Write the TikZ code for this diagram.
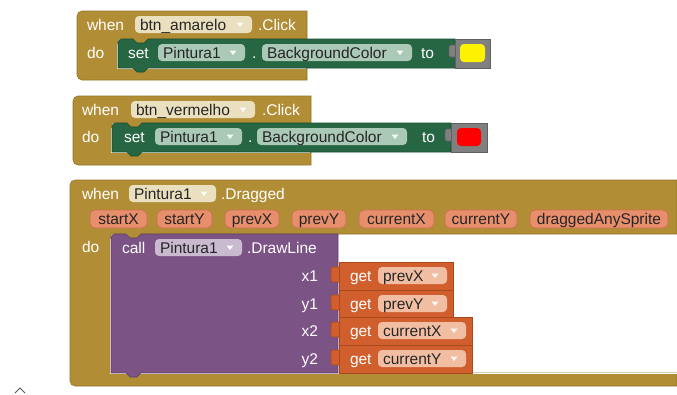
\documentclass[tikz,border=0pt]{standalone}
\usepackage{fontspec}
\setmainfont{Liberation Sans}

% block palette
\definecolor{evt}{RGB}{177,142,53}
\definecolor{evtdark}{RGB}{150,118,40}
\definecolor{evfield}{RGB}{234,223,190}
\definecolor{setg}{RGB}{38,102,67}
\definecolor{setgdark}{RGB}{27,78,50}
\definecolor{setfield}{RGB}{170,201,183}
\definecolor{sock}{RGB}{128,128,128}
\definecolor{sockdark}{RGB}{96,96,96}
\definecolor{callp}{RGB}{124,83,133}
\definecolor{callpdark}{RGB}{98,64,106}
\definecolor{callfield}{RGB}{201,186,208}
\definecolor{getor}{RGB}{208,95,45}
\definecolor{getordark}{RGB}{170,72,30}
\definecolor{getfield}{RGB}{242,190,163}
\definecolor{parfill}{RGB}{231,142,108}
\definecolor{pardraw}{RGB}{206,112,78}

\tikzset{
  blk/.style={font=\fontsize{15.5}{18}\selectfont, inner sep=0pt, outer sep=0pt},
  wtxt/.style={blk, text=white, anchor=base west},
  wtxtr/.style={blk, text=white, anchor=base east},
  ftxt/.style={blk, text=black!85, anchor=base west},
  ptxt/.style={blk, text=black!85, anchor=base},
  edge/.style={line width=0.6pt},
}

% dropdown triangle: x centre, y centre
\newcommand\mkarrow[2]{\fill[white,opacity=.9] ({#1-3.5},{#2-2}) -- ({#1+3.5},{#2-2}) -- ({#1},{#2+2.5}) -- cycle;}
% dropdown field: name, x1, y1, x2, y2, colour, text
\newcommand\mkfield[7]{%
  \fill[#6, rounded corners=4] ({#2},{#3}) rectangle ({#4},{#5});
  \node[ftxt] (#1) at ({#2+5},{(#3+#5)/2+5.5}) {#7};
  \mkarrow{#4-12}{(#3+#5)/2}}
% event parameter pill: name, x1, x2, text
\newcommand\mkpill[4]{%
  \path[fill=parfill, draw=pardraw, line width=.8, rounded corners=5] (#2,210) rectangle (#3,228);
  \node[ptxt] (#1) at ({(#2+#3)/2},224.5) {#4};}
% variable getter plugged into a socket: name, top, bottom, right, text, socket label
\newcommand\mkget[6]{%
  \path[fill=getor, draw=getordark, edge, rounded corners=2] (331,{#2+5}) rectangle (341,{#2+20});
  \path[fill=getor, draw=getordark, edge] (339,#2) rectangle (#4,#3);
  \node[wtxt] (#1g) at (350,{#2+19}) {get};
  \mkfield{#1f}{378}{#2+5}{#4-6}{#2+22}{getfield}{#5}
  \node[wtxtr] (#1l) at (318,{#2+19}) {#6};}

\begin{document}
\begin{tikzpicture}[x=1pt, y=-1pt]
\useasboundingbox (0,0) rectangle (677,394);
\fill[white] (0,0) rectangle (677,394);

% ---------- when btn_amarelo.Click ----------
\path[fill=evt, draw=evtdark, edge] (77,75) -- (77,16) arc[start angle=180,end angle=270,radius=5]
  -- (307,11) -- (307,39) -- (148,39) -- (144,43) -- (137,43) -- (133,39) -- (118,39)
  -- (118,68) -- (307,68) -- (307,80) -- (82,80) arc[start angle=90,end angle=180,radius=5] -- cycle;
\draw[white, line width=1] (117.5,44) -- (117.5,68.6) -- (306,68.6);
\path[fill=setg, draw=setgdark, edge] (118,68) -- (118,43) arc[start angle=180,end angle=270,radius=4]
  -- (133,39) -- (137,43) -- (144,43) -- (148,39) -- (455,39) -- (455,68)
  -- (148,68) -- (144,72) -- (137,72) -- (133,68) -- cycle;
\path[fill=sock, draw=sockdark, edge, rounded corners=2] (449,45) rectangle (457,57);
\path[fill=sock, draw=sockdark, edge] (455,39) rectangle (490,68);
\fill[yellow, rounded corners=4] (460,44) rectangle (485,62);

\node[wtxt] (w1) at (87,30.5) {when};
\mkfield{ev1}{135}{16}{252}{33}{evfield}{btn\_amarelo}
\node[wtxt] (c1) at (258,30.5) {.Click};
\node[wtxt] (d1) at (87,58) {do};
\node[wtxt] (s1) at (128,58) {set};
\mkfield{pa1}{158}{44}{245}{61}{setfield}{Pintura1}
\node[wtxt] (dot1) at (252,58) {.};
\mkfield{bg1}{262}{44}{412}{61}{setfield}{BackgroundColor}
\node[wtxt] (to1) at (421,58) {to};

% ---------- when btn_vermelho.Click ----------
\path[fill=evt, draw=evtdark, edge] (73,160) -- (73,101) arc[start angle=180,end angle=270,radius=5]
  -- (311,96) -- (311,123) -- (142,123) -- (138,127) -- (131,127) -- (127,123) -- (112,123)
  -- (112,152) -- (311,152) -- (311,165) -- (78,165) arc[start angle=90,end angle=180,radius=5] -- cycle;
\draw[white, line width=1] (111.5,128) -- (111.5,152.6) -- (310,152.6);
\path[fill=setg, draw=setgdark, edge] (112,152) -- (112,127) arc[start angle=180,end angle=270,radius=4]
  -- (127,123) -- (131,127) -- (138,127) -- (142,123) -- (451,123) -- (451,152)
  -- (142,152) -- (138,156) -- (131,156) -- (127,152) -- cycle;
\path[fill=sock, draw=sockdark, edge, rounded corners=2] (445,129) rectangle (453,141);
\path[fill=sock, draw=sockdark, edge] (451,123) rectangle (487,152);
\fill[red, rounded corners=4] (457,128) rectangle (481,146);

\node[wtxt] (w2) at (82,115.5) {when};
\mkfield{ev2}{131}{101}{255}{118}{evfield}{btn\_vermelho}
\node[wtxt] (c2) at (262,115.5) {.Click};
\node[wtxt] (d2) at (82,142.5) {do};
\node[wtxt] (s2) at (124,142.5) {set};
\mkfield{pa2}{155}{128}{242}{145}{setfield}{Pintura1}
\node[wtxt] (dot2) at (248,142.5) {.};
\mkfield{bg2}{257}{128}{407}{145}{setfield}{BackgroundColor}
\node[wtxt] (to2) at (422,142.5) {to};

% ---------- when Pintura1.Dragged ----------
\path[fill=evt, draw=evtdark, edge] (70,381) -- (70,185) arc[start angle=180,end angle=270,radius=5]
  -- (677,180) -- (677,234) -- (141,234) -- (137,238) -- (130,238) -- (126,234) -- (111,234)
  -- (111,373) -- (677,373) -- (677,386) -- (75,386) arc[start angle=90,end angle=180,radius=5] -- cycle;
\draw[white, line width=1] (110.5,239) -- (110.5,373.6) -- (677,373.6);
\path[fill=callp, draw=callpdark, edge] (111,373) -- (111,238) arc[start angle=180,end angle=270,radius=4]
  -- (126,234) -- (130,238) -- (137,238) -- (141,234) -- (338,234) -- (338,373)
  -- (141,373) -- (137,377) -- (130,377) -- (126,373) -- cycle;

\node[wtxt] (w3) at (82,199) {when};
\mkfield{ev3}{129}{185}{216}{202}{evfield}{Pintura1}
\node[wtxt] (dr3) at (221,199) {.Dragged};

\mkpill{sx}{90}{147}{startX}
\mkpill{sy}{157}{212}{startY}
\mkpill{px}{225}{279}{prevX}
\mkpill{py}{292}{346}{prevY}
\mkpill{cx}{359}{434}{currentX}
\mkpill{cy}{445}{517}{currentY}
\mkpill{da}{530}{668}{draggedAnySprite}

\node[wtxt] (d3) at (82,252) {do};
\node[wtxt] (call3) at (122,253) {call};
\mkfield{pa3}{155}{239}{242}{256}{callfield}{Pintura1}
\node[wtxt] (dl3) at (247,253) {.DrawLine};

\mkget{gx1}{262}{290}{453}{prevX}{x1}
\mkget{gy1}{290}{317}{453}{prevY}{y1}
\mkget{gx2}{317}{345}{472}{currentX}{x2}
\mkget{gy2}{345}{373}{472}{currentY}{y2}

% workspace scroll caret
\draw[black!65, line width=0.8] (15,393) -- (20,388) -- (25,393);
\end{tikzpicture}
\end{document}
